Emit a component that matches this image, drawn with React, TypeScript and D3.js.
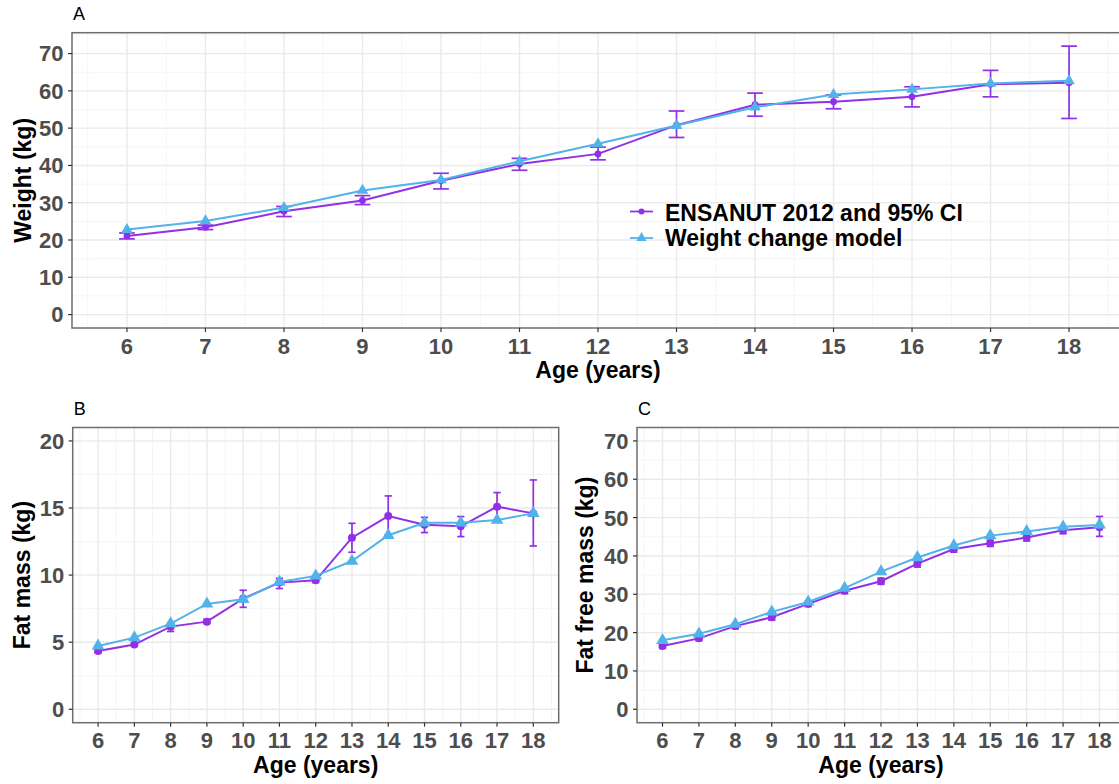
import React, { useEffect, useRef } from 'react';
import * as d3 from 'd3';

// ages on the x axis (same for all three panels)
const ages = [6, 7, 8, 9, 10, 11, 12, 13, 14, 15, 16, 17, 18];

// panel A, body weight (kg)
const weightObs = [21.1, 23.4, 27.7, 30.6, 35.9, 40.4, 43.1, 50.8, 56.3, 57.1, 58.4, 61.8, 62.2];
const weightLo = [20.3, 22.8, 26.3, 29.5, 33.7, 38.7, 41.5, 47.5, 53.2, 55.2, 55.7, 58.4, 52.6];
const weightHi = [21.9, 24.0, 29.0, 31.9, 37.9, 41.9, 44.9, 54.6, 59.4, 58.9, 61.1, 65.5, 72.0];
const weightModel = [22.8, 25.1, 28.7, 33.3, 36.1, 41.1, 45.8, 50.7, 55.6, 59.0, 60.4, 62.0, 62.7];

// panel B, fat mass (kg)
const fatObs = [4.35, 4.82, 6.16, 6.53, 8.25, 9.44, 9.61, 12.79, 14.4, 13.76, 13.64, 15.1, 14.6];
const fatLo = [4.2, 4.7, 5.8, 6.4, 7.6, 9.0, 9.45, 11.7, 13.0, 13.17, 12.87, 14.1, 12.17];
const fatHi = [4.5, 4.95, 6.46, 6.7, 8.87, 9.76, 9.8, 13.86, 15.9, 14.3, 14.36, 16.15, 17.09];
const fatModel = [4.72, 5.34, 6.38, 7.85, 8.2, 9.49, 9.94, 11.05, 12.97, 13.9, 13.9, 14.1, 14.6];

// panel C, fat free mass (kg)
const ffmObs = [16.5, 18.5, 21.7, 24.0, 27.5, 30.9, 33.4, 38.0, 41.8, 43.3, 44.8, 46.7, 47.5];
const ffmLo = [15.9, 17.9, 21.0, 23.3, 26.8, 30.2, 32.6, 37.1, 41.0, 42.5, 43.9, 45.8, 45.1];
const ffmHi = [17.1, 19.1, 22.4, 24.7, 28.2, 31.6, 34.2, 38.9, 42.6, 44.1, 45.7, 47.6, 50.3];
const ffmModel = [18.0, 19.7, 22.2, 25.4, 28.0, 31.6, 35.9, 39.6, 42.7, 45.3, 46.4, 47.6, 48.1];

const weightTicks = [0, 10, 20, 30, 40, 50, 60, 70];
const fatTicks = [0, 5, 10, 15, 20];
const ffmTicks = [0, 10, 20, 30, 40, 50, 60, 70];

const legendLabels = ['ENSANUT 2012 and 95% CI', 'Weight change model'];

const PURPLE = '#9130E6';
const BLUE = '#52B2EA';
const FONT = '"Liberation Sans", Arial, Helvetica, sans-serif';

type Panel = {
  letter: string;
  left: number;
  right: number;
  top: number;
  bottom: number;
  yDomain: [number, number];
  yTicks: number[];
  yStep: number;
  yTitle: string;
  yTitleX: number;
  obs: number[];
  lo: number[];
  hi: number[];
  model: number[];
  pointR: number;
  tri: number;
};

const panels: Panel[] = [
  {
    letter: 'A', left: 72, right: 1124, top: 32.7, bottom: 328,
    yDomain: [-3.6, 75.6], yTicks: weightTicks, yStep: 10, yTitle: 'Weight (kg)', yTitleX: 31,
    obs: weightObs, lo: weightLo, hi: weightHi, model: weightModel, pointR: 3.4, tri: 58,
  },
  {
    letter: 'B', left: 72.7, right: 558.7, top: 427.5, bottom: 722.7,
    yDomain: [-1, 21], yTicks: fatTicks, yStep: 5, yTitle: 'Fat mass (kg)', yTitleX: 30,
    obs: fatObs, lo: fatLo, hi: fatHi, model: fatModel, pointR: 4, tri: 70,
  },
  {
    letter: 'C', left: 637, right: 1125, top: 427.5, bottom: 722.7,
    yDomain: [-3.5, 73.5], yTicks: ffmTicks, yStep: 10, yTitle: 'Fat free mass (kg)', yTitleX: 593,
    obs: ffmObs, lo: ffmLo, hi: ffmHi, model: ffmModel, pointR: 4, tri: 70,
  },
];

function drawPanel(svg: d3.Selection<SVGSVGElement, unknown, null, undefined>, p: Panel) {
  const x = d3.scaleLinear().domain([5.3, 18.7]).range([p.left, p.right]);
  const y = d3.scaleLinear().domain(p.yDomain).range([p.bottom, p.top]);
  const g = svg.append('g');

  // background
  g.append('rect')
    .attr('x', p.left).attr('y', p.top)
    .attr('width', p.right - p.left).attr('height', p.bottom - p.top)
    .attr('fill', '#fff');

  // minor grid
  const xMinor = d3.range(5.5, 18.7, 1);
  const yMinor = p.yTicks.map(t => t + p.yStep / 2).concat([p.yTicks[0] - p.yStep / 2])
    .filter(v => v > p.yDomain[0] && v < p.yDomain[1]);
  g.selectAll('.xminor').data(xMinor).enter().append('line')
    .attr('x1', d => x(d)).attr('x2', d => x(d))
    .attr('y1', p.top).attr('y2', p.bottom)
    .attr('stroke', '#F2F2F2').attr('stroke-width', 0.8);
  g.selectAll('.yminor').data(yMinor).enter().append('line')
    .attr('x1', p.left).attr('x2', p.right)
    .attr('y1', d => y(d)).attr('y2', d => y(d))
    .attr('stroke', '#F2F2F2').attr('stroke-width', 0.8);

  // major grid
  g.selectAll('.xmajor').data(ages).enter().append('line')
    .attr('x1', d => x(d)).attr('x2', d => x(d))
    .attr('y1', p.top).attr('y2', p.bottom)
    .attr('stroke', '#EAEAEA').attr('stroke-width', 1.4);
  g.selectAll('.ymajor').data(p.yTicks).enter().append('line')
    .attr('x1', p.left).attr('x2', p.right)
    .attr('y1', d => y(d)).attr('y2', d => y(d))
    .attr('stroke', '#EAEAEA').attr('stroke-width', 1.4);

  // error bars
  const cap = (x(0.2) - x(0)) / 2;
  const eb = g.append('g').attr('stroke', PURPLE).attr('stroke-width', 1.7).attr('fill', 'none');
  ages.forEach((a, i) => {
    eb.append('line').attr('x1', x(a)).attr('x2', x(a)).attr('y1', y(p.lo[i])).attr('y2', y(p.hi[i]));
    eb.append('line').attr('x1', x(a) - cap).attr('x2', x(a) + cap).attr('y1', y(p.lo[i])).attr('y2', y(p.lo[i]));
    eb.append('line').attr('x1', x(a) - cap).attr('x2', x(a) + cap).attr('y1', y(p.hi[i])).attr('y2', y(p.hi[i]));
  });

  const line = d3.line<number>().x((_, i) => x(ages[i])).y(d => y(d));

  // observed series
  g.append('path').attr('d', line(p.obs)).attr('fill', 'none')
    .attr('stroke', PURPLE).attr('stroke-width', 2);
  g.selectAll('.obs').data(p.obs).enter().append('circle')
    .attr('cx', (_, i) => x(ages[i])).attr('cy', d => y(d)).attr('r', p.pointR)
    .attr('fill', PURPLE);

  // model series
  g.append('path').attr('d', line(p.model)).attr('fill', 'none')
    .attr('stroke', BLUE).attr('stroke-width', 2);
  const tri = d3.symbol().type(d3.symbolTriangle).size(p.tri);
  g.selectAll('.mod').data(p.model).enter().append('path')
    .attr('d', tri)
    .attr('transform', (d, i) => `translate(${x(ages[i])},${y(d)})`)
    .attr('fill', BLUE);

  // border
  g.append('rect')
    .attr('x', p.left).attr('y', p.top)
    .attr('width', p.right - p.left).attr('height', p.bottom - p.top)
    .attr('fill', 'none').attr('stroke', '#6E6E6E').attr('stroke-width', 1.5);

  // ticks
  g.selectAll('.ytick').data(p.yTicks).enter().append('line')
    .attr('x1', p.left - 4).attr('x2', p.left)
    .attr('y1', d => y(d)).attr('y2', d => y(d))
    .attr('stroke', '#333').attr('stroke-width', 1.2);
  g.selectAll('.xtick').data(ages).enter().append('line')
    .attr('x1', d => x(d)).attr('x2', d => x(d))
    .attr('y1', p.bottom).attr('y2', p.bottom + 4)
    .attr('stroke', '#333').attr('stroke-width', 1.2);

  g.selectAll('.ylab').data(p.yTicks).enter().append('text')
    .attr('x', p.left - 8.5).attr('y', d => y(d)).attr('dy', '0.36em')
    .attr('text-anchor', 'end')
    .style('font-family', FONT).style('font-size', '22px').style('font-weight', 'bold')
    .style('fill', '#4D4D4D')
    .text(d => d);
  g.selectAll('.xlab').data(ages).enter().append('text')
    .attr('x', d => x(d)).attr('y', p.bottom + 25.5)
    .attr('text-anchor', 'middle')
    .style('font-family', FONT).style('font-size', '22px').style('font-weight', 'bold')
    .style('fill', '#4D4D4D')
    .text(d => d);

  // titles
  g.append('text')
    .attr('x', (p.left + p.right) / 2).attr('y', p.bottom + 50)
    .attr('text-anchor', 'middle')
    .style('font-family', FONT).style('font-size', '23px').style('font-weight', 'bold')
    .style('fill', '#000')
    .text('Age (years)');
  g.append('text')
    .attr('transform', `translate(${p.yTitleX},${(p.top + p.bottom) / 2}) rotate(-90)`)
    .attr('text-anchor', 'middle')
    .style('font-family', FONT).style('font-size', '23px').style('font-weight', 'bold')
    .style('fill', '#000')
    .text(p.yTitle);
  g.append('text')
    .attr('x', p.left + 1).attr('y', p.top - 13)
    .style('font-family', FONT).style('font-size', '18px')
    .style('fill', '#000')
    .text(p.letter);
}

function drawLegend(svg: d3.Selection<SVGSVGElement, unknown, null, undefined>) {
  const rows = [
    { label: legendLabels[0], color: PURPLE, cy: 211.5, base: 221 },
    { label: legendLabels[1], color: BLUE, cy: 238, base: 245.5 },
  ];
  const lg = svg.append('g');
  rows.forEach((r, i) => {
    lg.append('line').attr('x1', 630).attr('x2', 653).attr('y1', r.cy).attr('y2', r.cy)
      .attr('stroke', r.color).attr('stroke-width', 1.8);
    if (i === 0) {
      lg.append('circle').attr('cx', 641.5).attr('cy', r.cy).attr('r', 3).attr('fill', r.color);
    } else {
      lg.append('path').attr('d', d3.symbol().type(d3.symbolTriangle).size(45)())
        .attr('transform', `translate(641.5,${r.cy})`).attr('fill', r.color);
    }
    lg.append('text').attr('x', 665).attr('y', r.base)
      .style('font-family', FONT).style('font-size', '23px').style('font-weight', 'bold')
      .style('fill', '#000')
      .text(r.label);
  });
}

export default function App() {
  const ref = useRef<SVGSVGElement>(null);

  useEffect(() => {
    if (!ref.current) return;
    const svg = d3.select(ref.current);
    svg.selectAll('*').remove();
    panels.forEach(p => drawPanel(svg, p));
    drawLegend(svg);
  }, []);

  return (
    <svg ref={ref} width={1119} height={784}
      style={{ position: 'absolute', left: 0, top: 0, background: '#fff' }} />
  );
}
